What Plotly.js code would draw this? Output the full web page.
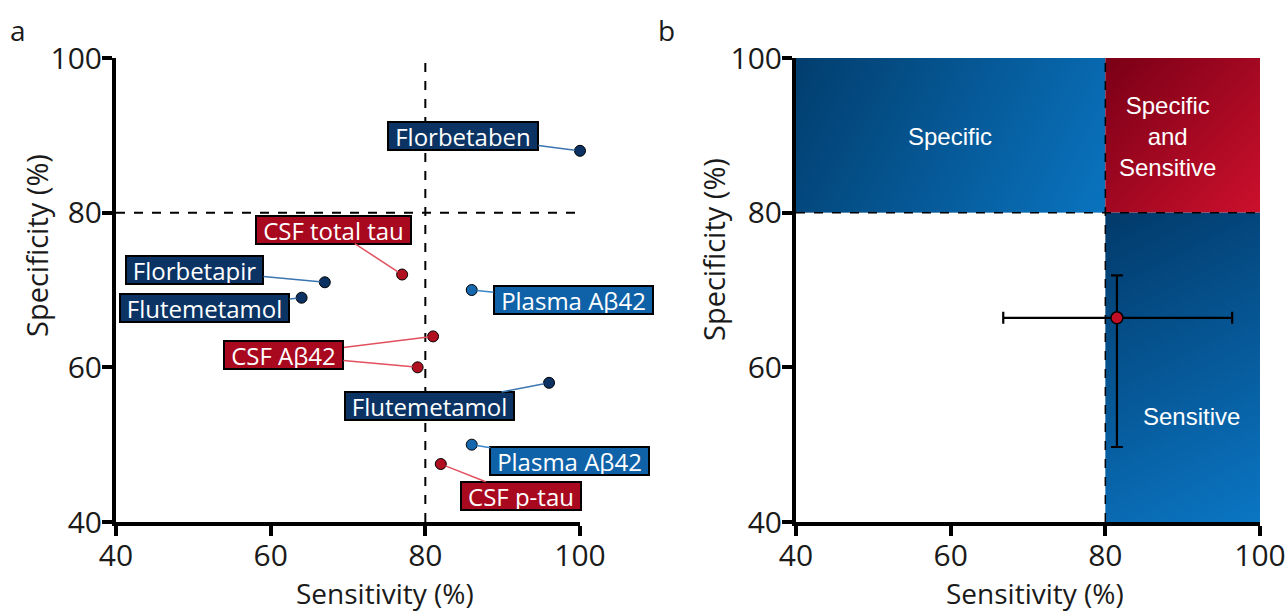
<!DOCTYPE html>
<html>
<head>
<meta charset="utf-8">
<script src="https://cdn.plot.ly/plotly-3.0.1.min.js"></script>
<style>html,body{margin:0;padding:0;background:#fff;}#chart{width:1287px;height:612px;}</style>
</head>
<body>
<div id="chart"></div>
<script>
// ---- Panel a data ----
const labels = ['Florbetaben','CSF total tau','Florbetapir','Flutemetamol','Plasma Aβ42','CSF Aβ42','CSF Aβ42','Flutemetamol','Plasma Aβ42','CSF p-tau'];
const sensitivity = [100, 77, 67, 64, 86, 81, 79, 96, 86, 82];
const specificity = [88, 72, 71, 69, 70, 64, 60, 58, 50, 47.5];
const groups = ['PET','CSF','PET','PET','Plasma','CSF','CSF','PET','Plasma','CSF'];
// label box positions (layout, data units)
const labelX = [84.9, 68.1, 50.2, 51.5, 99.1, 61.7, 61.7, 80.5, 98.7, 92.4];
const labelY = [89.9, 77.8, 72.6, 67.7, 68.7, 61.6, 61.6, 55.0, 47.9, 43.4];

// ---- Panel b data ----
const pooledSens = [81.5];
const pooledSpec = [66.4];
const sensErrPlus = [14.9];
const sensErrMinus = [14.7];
const specErrPlus = [5.5];
const specErrMinus = [16.7];
const threshold = 80;
const regionNames = ['Specific', 'Specific<br>and<br>Sensitive', 'Sensitive'];
const regionTextX = [59.9, 88, 91.2];
const regionTextY = [89.8, 89.8, 53.6];

const ticks = [40, 60, 80, 100];
const xTitle = 'Sensitivity (%)';
const yTitle = 'Specificity (%)';

const boxColor = {PET:'#0b3464', Plasma:'#0f62a8', CSF:'#a8091f'};
const markerColor = {PET:'#0b3262', Plasma:'#1567ae', CSF:'#b0101f'};
const leaderColor = {PET:'#3a75b0', Plasma:'#3a86c8', CSF:'#e2505f'};

const labelFont = 24;
const mctx = document.createElement('canvas').getContext('2d');
mctx.font = labelFont + 'px "Open Sans"';
function textW(t){ return Math.round(mctx.measureText(t).width); }

const traces = [];
['PET','Plasma','CSF'].forEach(g => {
  const idx = groups.map((v,i)=>v===g?i:-1).filter(i=>i>=0);
  traces.push({
    type:'scatter', mode:'markers', xaxis:'x', yaxis:'y',
    x: idx.map(i=>sensitivity[i]), y: idx.map(i=>specificity[i]),
    cliponaxis:false, hoverinfo:'skip', showlegend:false,
    marker:{size:11, color:markerColor[g], line:{color:'#000', width:1}}
  });
});
traces.push({
  type:'scatter', mode:'markers', xaxis:'x2', yaxis:'y2',
  x: pooledSens, y: pooledSpec, cliponaxis:false, showlegend:false, hoverinfo:'skip',
  marker:{size:12, color:'#c20f26', line:{color:'#000', width:1.5}},
  error_x:{type:'data', symmetric:false, array:sensErrPlus, arrayminus:sensErrMinus, color:'#000', thickness:2.2, width:6},
  error_y:{type:'data', symmetric:false, array:specErrPlus, arrayminus:specErrMinus, color:'#000', thickness:2.2, width:6}
});

const annotations = labels.map((t,i)=>({
  xref:'x', yref:'y', axref:'x', ayref:'y',
  x: sensitivity[i], y: specificity[i], ax: labelX[i], ay: labelY[i],
  text: t, showarrow:true, arrowhead:0, arrowwidth:1.5, arrowcolor: leaderColor[groups[i]],
  standoff:5, bgcolor: boxColor[groups[i]], bordercolor:'#000', borderwidth:2, borderpad:0,
  width: textW(t) + 12, height: 26,
  font:{family:'Open Sans', size:labelFont, color:'#fff'}
}));
regionNames.forEach((t,i)=>annotations.push({
  xref:'x2', yref:'y2', x: regionTextX[i], y: regionTextY[i], text:t, showarrow:false,
  font:{family:'Liberation Sans, Arial', size:24, color:'#fff'}
}));
function paperText(t, px, py, size, angle) {
  return {xref:'paper', yref:'paper', x:px/1287, y:1-py/612, text:t, showarrow:false,
    xanchor:'center', yanchor:'middle', textangle: angle || 0,
    font:{family:'Open Sans', size:size, color:'#1a1a1a'}};
}
annotations.push(paperText('a', 18, 30, 28));
annotations.push(paperText('b', 666, 30, 28));
annotations.push(paperText(xTitle, 385, 593, 28));
annotations.push(paperText(xTitle, 1035, 593, 28));
annotations.push(paperText(yTitle, 36, 246, 29, -90));
annotations.push(paperText(yTitle, 713, 250, 29, -90));

function grad(w, h, c0, c1) {
  const c = document.createElement('canvas');
  c.width = w; c.height = h;
  const ctx = c.getContext('2d');
  const g = ctx.createLinearGradient(0, 0, w, h);
  g.addColorStop(0, c0); g.addColorStop(1, c1);
  ctx.fillStyle = g; ctx.fillRect(0, 0, w, h);
  return c.toDataURL();
}
const images = [
  {source: grad(309,155,'#023e6e','#0a74c0'), xref:'x2', yref:'y2', x:40, y:100, sizex:threshold-40, sizey:100-threshold, sizing:'stretch', xanchor:'left', yanchor:'top', layer:'below'},
  {source: grad(155,155,'#7a0016','#cc102d'), xref:'x2', yref:'y2', x:threshold, y:100, sizex:100-threshold, sizey:100-threshold, sizing:'stretch', xanchor:'left', yanchor:'top', layer:'below'},
  {source: grad(155,309,'#023a6a','#0b76c4'), xref:'x2', yref:'y2', x:threshold, y:threshold, sizex:100-threshold, sizey:threshold-40, sizing:'stretch', xanchor:'left', yanchor:'top', layer:'below'}
];

const dash = {color:'#000', width:2, dash:'dash'};
const dashB = {color:'#000', width:1.5, dash:'dash'};
const shapes = [
  {type:'line', xref:'x', yref:'y', x0:threshold, x1:threshold, y0:40, y1:100, line:dash, layer:'below'},
  {type:'line', xref:'x', yref:'y', x0:40, x1:100, y0:threshold, y1:threshold, line:dash, layer:'below'},
  {type:'line', xref:'x2', yref:'y2', x0:threshold, x1:threshold, y0:40, y1:100, line:dashB},
  {type:'line', xref:'x2', yref:'y2', x0:40, x1:100, y0:threshold, y1:threshold, line:dashB}
];

function axis(domain, anchor) {
  return {
    domain: domain, anchor: anchor, range:[40,100], tickvals: ticks, ticktext: ticks.map(String),
    showgrid:false, zeroline:false, showline:true, linecolor:'#000', linewidth:4,
    ticks:'outside', ticklen:10, tickwidth:4, tickcolor:'#000', ticklabelstandoff:-6,
    tickfont:{family:'Open Sans', size:30, color:'#1a1a1a'},
    automargin:false, fixedrange:true
  };
}
const yDom = [1-522/612, 1-58/612];
const layout = {
  width:1287, height:612, margin:{l:0,r:0,t:0,b:0},
  paper_bgcolor:'#fff', plot_bgcolor:'rgba(0,0,0,0)', showlegend:false,
  xaxis: axis([116/1287, 580/1287], 'y'),
  yaxis: axis(yDom, 'x'),
  xaxis2: axis([796/1287, 1260/1287], 'y2'),
  yaxis2: axis(yDom, 'x2'),
  annotations: annotations, shapes: shapes, images: images
};
Plotly.newPlot('chart', traces, layout, {displayModeBar:false, staticPlot:true});
</script>
</body>
</html>
